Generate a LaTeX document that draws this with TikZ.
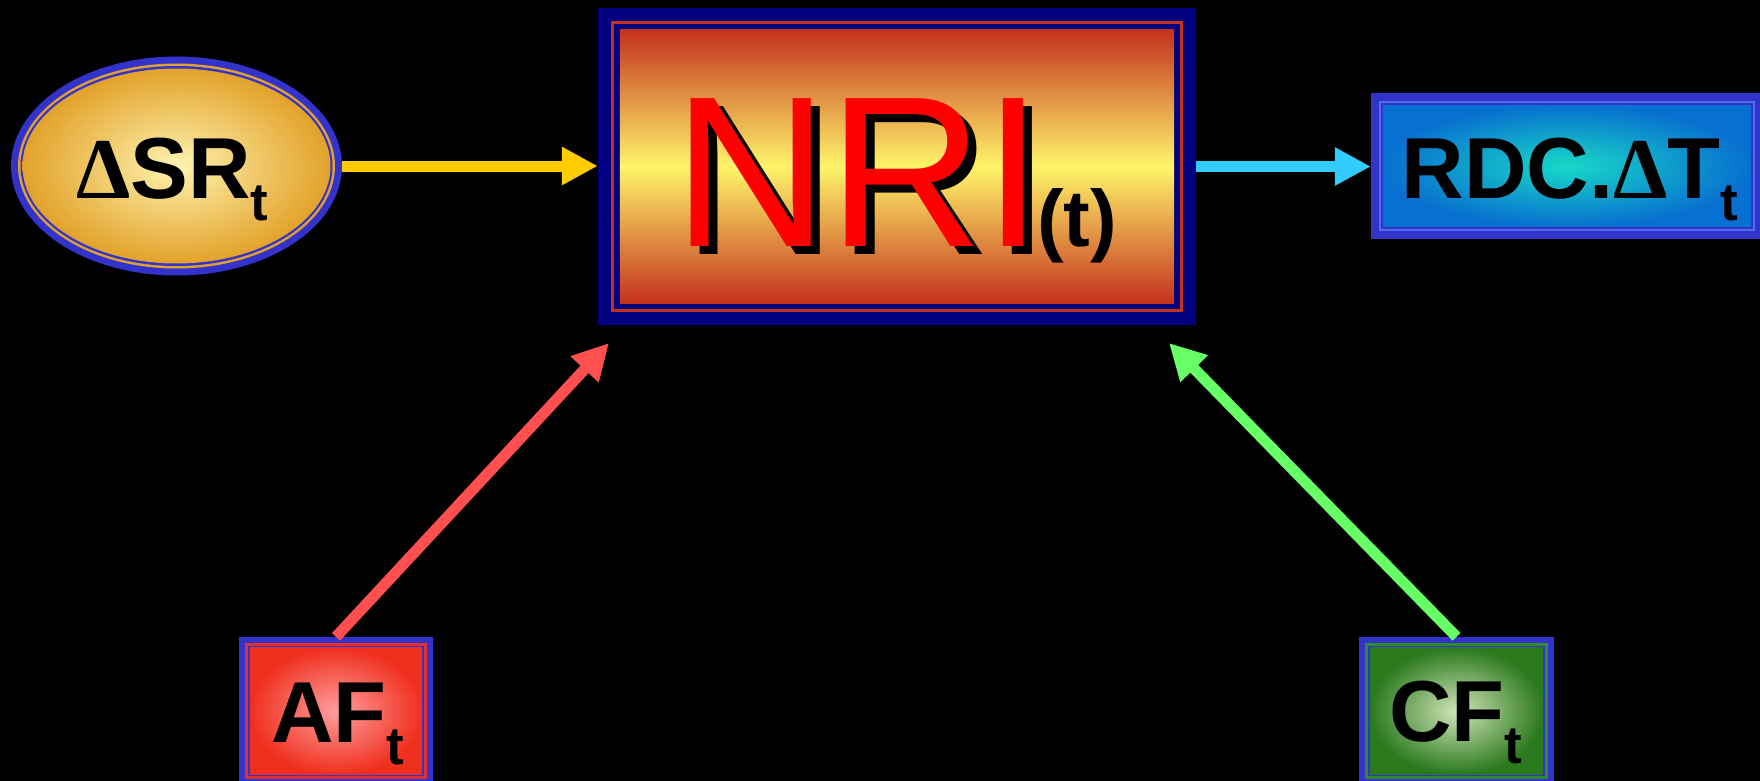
\documentclass[tikz,border=0pt]{standalone}
\usepackage{fontspec}
\usepackage{graphicx}
\setmainfont{Liberation Sans}
\newfontfamily\dfont{Liberation Serif}
\usetikzlibrary{arrows.meta,shapes.geometric}
\definecolor{navy}{HTML}{000080}
\definecolor{bblue}{HTML}{3333CC}
\definecolor{nrired}{HTML}{FF0000}
\definecolor{nriedge}{HTML}{C4321E}
\definecolor{nrimid}{HTML}{FFF46A}
\definecolor{srin}{HTML}{FFF3B0}
\definecolor{srout}{HTML}{E2A22A}
\definecolor{srline}{HTML}{E0A030}
\definecolor{afin}{HTML}{FF9E9E}
\definecolor{afout}{HTML}{F0301E}
\definecolor{afline}{HTML}{E03030}
\definecolor{cfin}{HTML}{D0E4B8}
\definecolor{cfout}{HTML}{2C7A1E}
\definecolor{cfline}{HTML}{2E8B2E}
\definecolor{rdcin}{HTML}{18D8C8}
\definecolor{rdcout}{HTML}{0870D0}
\definecolor{rdcline}{HTML}{4A70E8}
\definecolor{arry}{HTML}{FFCC00}
\definecolor{arrc}{HTML}{33CCFF}
\definecolor{arrr}{HTML}{FF4F4F}
\definecolor{arrg}{HTML}{66FF66}
\newcommand\dlt{{\dfont\bfseries Δ}}
\newcommand\subt{\raisebox{-22pt}{\fontsize{53}{53}\selectfont\bfseries t}}
\newcommand\layers[7]{%
  \fill[#2] (#1.north west) rectangle (#1.south east);
  \fill[#3] ([shift={(#5,#5)}]#1.north west) rectangle ([shift={(-#5,-#5)}]#1.south east);
  \fill[#2] ([shift={(#6,#6)}]#1.north west) rectangle ([shift={(-#6,-#6)}]#1.south east);
  \shade[#4] ([shift={(#7,#7)}]#1.north west) rectangle ([shift={(-#7,-#7)}]#1.south east);
}
\begin{document}
\begin{tikzpicture}[x=1pt,y=-1pt,
  shapebox/.style={rectangle, inner sep=0pt, draw=none},
  lbl/.style={anchor=base west, inner sep=0pt, font=\fontsize{86.6}{86.6}\selectfont\bfseries, text=black},
  arr/.style={line width=11pt, -{Triangle[length=36pt,width=36pt]}}]
\fill[black] (0,0) rectangle (1760,781);
\useasboundingbox (0,0) rectangle (1760,781);

% shape nodes
\node[ellipse, inner sep=0pt, minimum width=331pt, minimum height=219pt] (sr) at (176.5,166) {};
\node[shapebox, minimum width=598pt, minimum height=317pt] (nri) at (897,166.5) {};
\node[shapebox, minimum width=392pt, minimum height=146pt] (rdc) at (1567,166) {};
\node[shapebox, minimum width=194pt, minimum height=148pt] (af) at (336,711) {};
\node[shapebox, minimum width=195pt, minimum height=148pt] (cf) at (1456.5,711) {};

% ellipse layers
\fill[bblue] (sr.center) ellipse [x radius=165.5, y radius=109.5];
\fill[srline] (sr.center) ellipse [x radius=158.5, y radius=102.5];
\fill[bblue] (sr.center) ellipse [x radius=156, y radius=100];
\shade[inner color=srin, outer color=srout] (sr.center) ellipse [x radius=154, y radius=97.5];

% box layers
\layers{nri}{navy}{nriedge}{top color=nriedge, bottom color=nriedge, middle color=nrimid}{13}{16.5}{22}
\layers{rdc}{bblue}{rdcline}{inner color=rdcin, outer color=rdcout}{8}{10.5}{12.5}
\layers{af}{bblue}{afline}{inner color=afin, outer color=afout}{6}{9}{11}
\layers{cf}{bblue}{cfline}{inner color=cfin, outer color=cfout}{6}{9}{11}

% texts
\node[lbl] (srt) at (76,198) {\dlt SR\subt};
\node[anchor=base west, inner sep=0pt, font=\fontsize{215}{215}\selectfont, text=black] (nrish) at (682,254) {NRI};
\node[anchor=base west, inner sep=0pt, font=\fontsize{215}{215}\selectfont, text=nrired] (nrit) at (673,246) {NRI};
\node[anchor=base west, inner sep=0pt, font=\fontsize{80}{80}\selectfont\bfseries, text=black] (nrisub) at (1037,246) {(t)};
\node[lbl] (rdct) at (1401.5,198) {RDC.\dlt T\subt};
\node[lbl] (aft) at (271,742) {AF\subt};
\node[lbl] (cft) at (1389,741) {CF\subt};

% connectors
\coordinate (redtip) at (609,343);
\coordinate (greentip) at (1169,343);
\draw[arr, arry] (sr.east) -- (sr.east -| nri.west);
\draw[arr, arrc] (nri.east) -- (nri.east -| rdc.west);
\draw[arr, arrr] (af.north) -- (redtip);
\draw[arr, arrg] (cf.north) -- (greentip);
\end{tikzpicture}
\end{document}
